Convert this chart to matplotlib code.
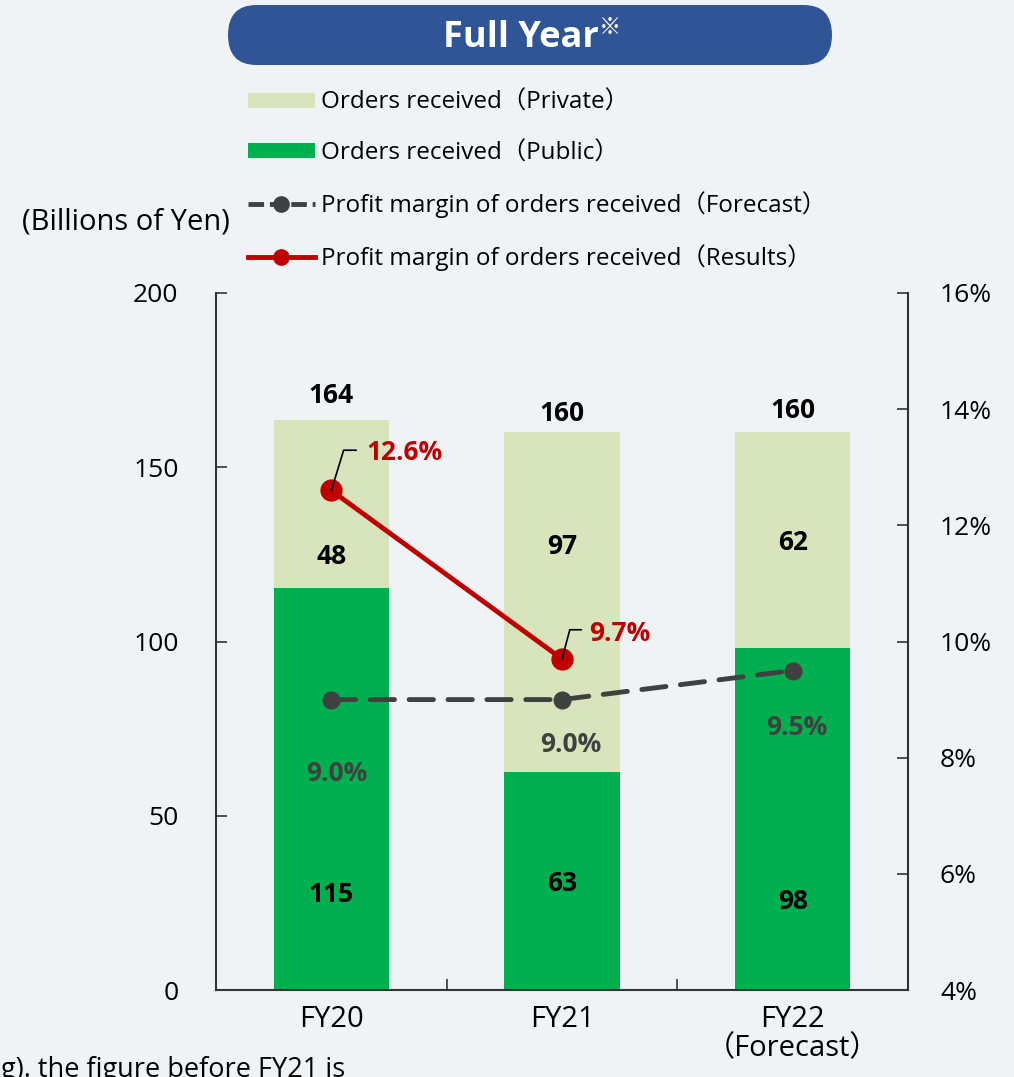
import matplotlib
matplotlib.use("Agg")
from matplotlib import pyplot as plt
from matplotlib.patches import FancyBboxPatch, Patch
from matplotlib.lines import Line2D
import numpy as np

# data
years = ["FY20", "FY21", "FY22\n（Forecast）"]
public = [115.3, 62.6, 98.1]
private = [48.4, 97.5, 61.9]
public_labels = ["115", "63", "98"]
private_labels = ["48", "97", "62"]
total_labels = ["164", "160", "160"]
margin_results = [12.6, 9.7]
margin_forecast = [9.0, 9.0, 9.5]
left_ticks = [0, 50, 100, 150, 200]
right_ticks = [4, 6, 8, 10, 12, 14, 16]

# label placement (data units / offset points)
public_label_y = [27.3, 30.7, 25.5]
private_label_y = [124.5, 127.4, 128.5]
total_offsets = [17, 13, 16]
forecast_offsets = [(4, -53), (6, -32), (3, -41)]

bg = "#EFF3F5"
c_private = "#D8E4BC"
c_public = "#00B050"
c_red = "#C00000"
c_gray = "#404040"

plt.rcParams["font.family"] = ["Open Sans", "Noto Sans CJK JP", "DejaVu Sans"]

fig = plt.figure(figsize=(10.14, 10.77), dpi=100, facecolor=bg)
ax = fig.add_axes([216 / 1014, 1 - 990 / 1077, 692 / 1014, 697 / 1077])
ax.set_facecolor(bg)
x = np.arange(len(years))

ax.bar(x, public, width=0.5, color=c_public, zorder=2)
ax.bar(x, private, width=0.5, bottom=public, color=c_private, zorder=2)

ax.set_xlim(-0.5, 2.5)
ax.set_ylim(0, 200)
ax.set_yticks(left_ticks)
ax.set_xticks(x)
ax.set_xticklabels(years, fontsize=21, linespacing=1.0)
ax.set_xticks([0.5, 1.5], minor=True)
ax.tick_params(axis="x", which="major", length=0, pad=11)
ax.tick_params(axis="x", which="minor", direction="in", length=8, width=1.2, color="#333333")
ax.tick_params(axis="y", direction="in", length=8, width=1.2, pad=27, labelsize=19, color="#333333")
for s in ["left", "right", "bottom"]:
    ax.spines[s].set_color("#333333")
    ax.spines[s].set_linewidth(1.5)
ax.spines["top"].set_visible(False)

for i in range(len(years)):
    ax.text(x[i], public_label_y[i], public_labels[i], ha="center", va="center",
            fontsize=19, fontweight="bold", color="black", zorder=3)
    ax.text(x[i], private_label_y[i], private_labels[i], ha="center", va="center",
            fontsize=19, fontweight="bold", color="black", zorder=3)
    ax.annotate(total_labels[i], xy=(x[i], public[i] + private[i]),
                xytext=(0, total_offsets[i]), textcoords="offset points",
                ha="center", va="center", fontsize=19, fontweight="bold", color="black")

ax2 = ax.twinx()
ax2.set_ylim(4, 16)
ax2.set_yticks(right_ticks)
ax2.set_yticklabels([f"{t}%" for t in right_ticks])
ax2.tick_params(axis="y", direction="in", length=8, width=1.2, pad=23, labelsize=19, color="#333333")
for s in ["left", "right", "bottom", "top"]:
    ax2.spines[s].set_visible(False)

ax2.plot(x, margin_forecast, color=c_gray, lw=3.5, dashes=(5, 3), marker="o",
         markersize=12, dash_capstyle="round", zorder=3)
ax2.plot(x[:2], margin_results, color=c_red, lw=3.5, marker="o", markersize=15, zorder=4)

for i, v in enumerate(margin_forecast):
    ax2.annotate(f"{v:.1f}%", xy=(x[i], v), xytext=forecast_offsets[i], textcoords="offset points",
                 ha="center", va="center", fontsize=19, fontweight="bold", color=c_gray)

res_text_off = [(25, 27), (19.5, 18)]
res_lead_off = [(18, 29), (14, 21)]
res_lead_ang = [73, 75]
for i, v in enumerate(margin_results):
    ax2.annotate("", xy=(x[i], v), xytext=res_lead_off[i], textcoords="offset points",
                 arrowprops=dict(arrowstyle="-", color="black", lw=1.2, shrinkA=0, shrinkB=0,
                                 connectionstyle=f"angle,angleA=0,angleB={res_lead_ang[i]},rad=0"),
                 zorder=5)
    ax2.annotate(f"{v:.1f}%", xy=(x[i], v), xytext=res_text_off[i], textcoords="offset points",
                 ha="left", va="center", fontsize=19, fontweight="bold", color=c_red, zorder=5)

# title pill
fig.patches.append(FancyBboxPatch((228 / 1014, 1 - 65 / 1077), 604 / 1014, 60 / 1077,
                                  boxstyle="round,pad=0,rounding_size=0.028",
                                  transform=fig.transFigure, facecolor="#2F5597",
                                  edgecolor="none"))
fig.text(0.591, 1 - 38 / 1077, "Full Year", ha="right", va="center",
         fontsize=26, fontweight="bold", color="white")
fig.text(0.591, 1 - 28 / 1077, "※", ha="left", va="center",
         fontsize=16, color="white", family=["Noto Sans CJK JP", "DejaVu Sans"])

# legend
handles = [
    Patch(facecolor=c_private, edgecolor="none"),
    Patch(facecolor=c_public, edgecolor="none"),
    Line2D([], [], color=c_gray, lw=3.5, dashes=(3.2, 1.2), marker="o", markersize=11),
    Line2D([], [], color=c_red, lw=3.5, marker="o", markersize=11),
]
labels = ["Orders received（Private）", "Orders received（Public）",
          "Profit margin of orders received（Forecast）",
          "Profit margin of orders received（Results）"]
fig.legend(handles, labels, loc="upper left", bbox_to_anchor=(248 / 1014, 1 - 91 / 1077),
           frameon=False, fontsize=17.5, handlelength=2.75, handleheight=0.55, handletextpad=0.25,
           labelspacing=1.08, borderpad=0, borderaxespad=0)

fig.text(22 / 1014, 1 - 222 / 1077, "(Billions of Yen)", ha="left", va="center", fontsize=21)
fig.text(345 / 1014, 1 - 1056 / 1077, "g). the figure before FY21 is", ha="right", va="top",
         fontsize=19.5)

fig.savefig("out.png", dpi=100, facecolor=bg)
